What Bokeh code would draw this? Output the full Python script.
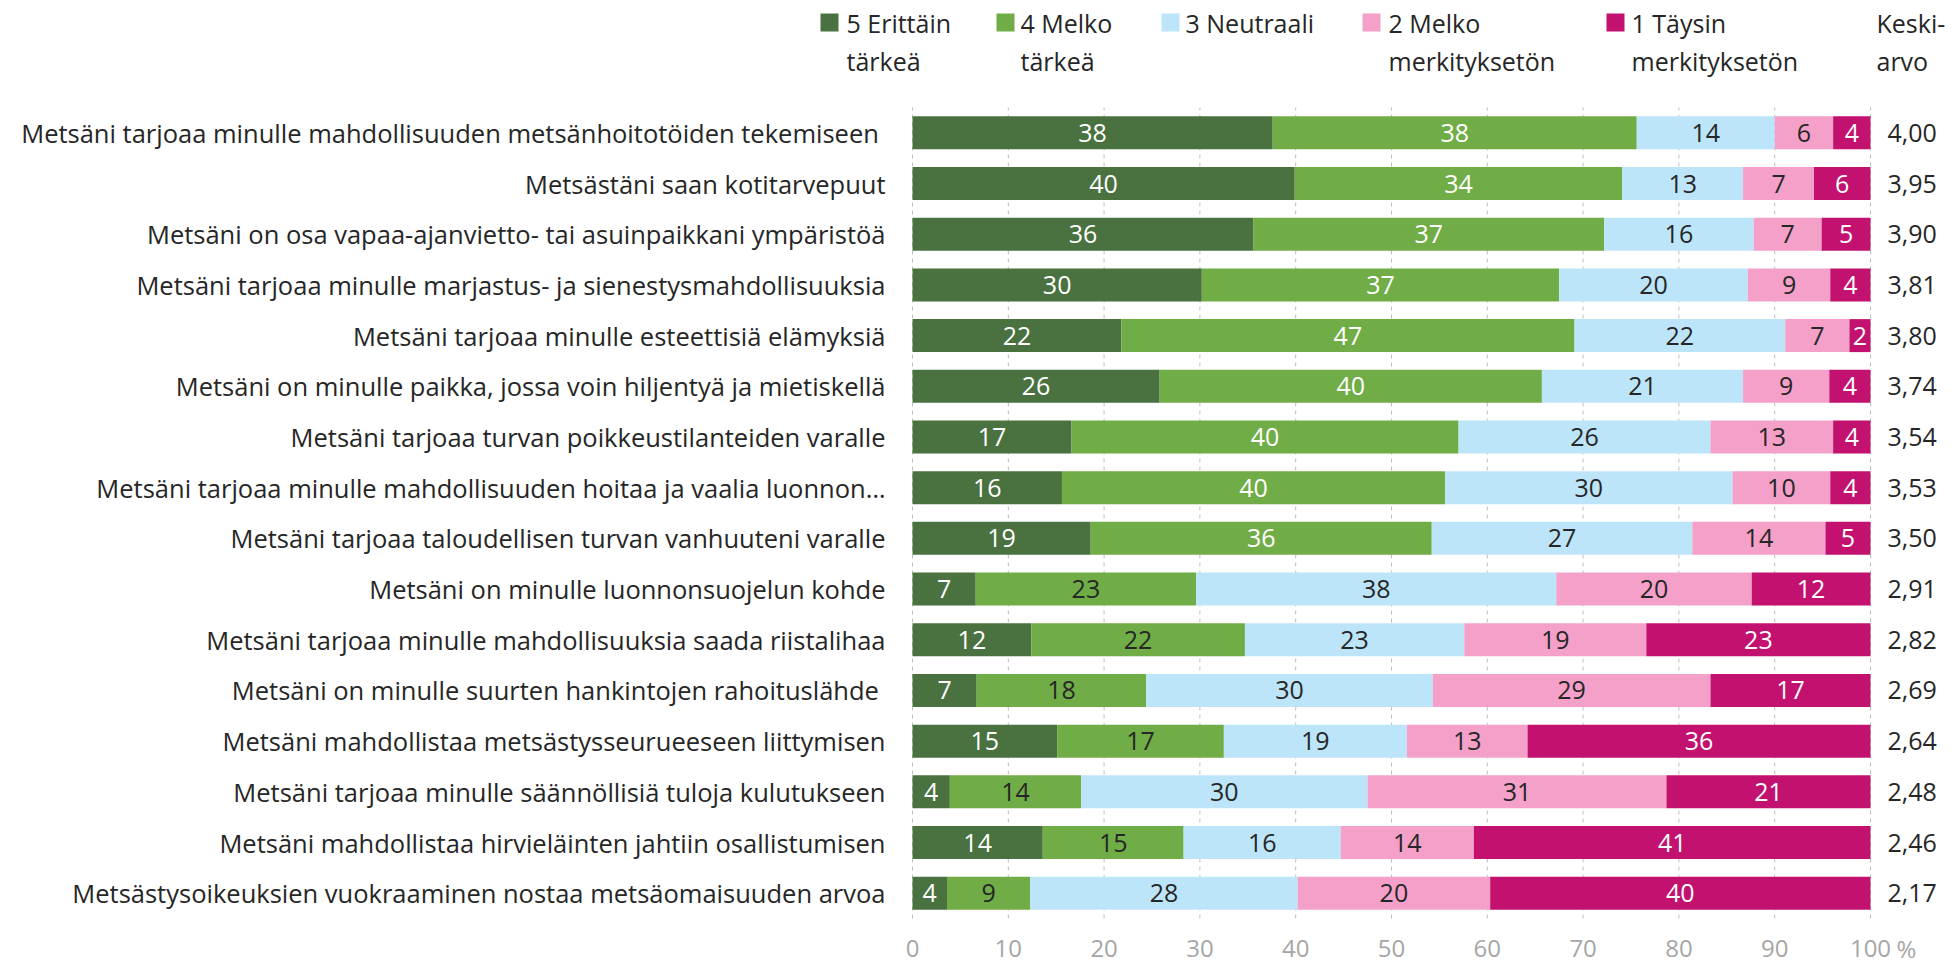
from bokeh.plotting import figure
from bokeh.models import ColumnDataSource, Range1d
from bokeh.core.properties import value
from bokeh.embed import file_html
from bokeh.resources import INLINE

# ---------------- data ----------------
categories = [
    "Metsäni tarjoaa minulle mahdollisuuden metsänhoitotöiden tekemiseen ",
    "Metsästäni saan kotitarvepuut",
    "Metsäni on osa vapaa-ajanvietto- tai asuinpaikkani ympäristöä",
    "Metsäni tarjoaa minulle marjastus- ja sienestysmahdollisuuksia",
    "Metsäni tarjoaa minulle esteettisiä elämyksiä",
    "Metsäni on minulle paikka, jossa voin hiljentyä ja mietiskellä",
    "Metsäni tarjoaa turvan poikkeustilanteiden varalle",
    "Metsäni tarjoaa minulle mahdollisuuden hoitaa ja vaalia luonnon…",
    "Metsäni tarjoaa taloudellisen turvan vanhuuteni varalle",
    "Metsäni on minulle luonnonsuojelun kohde",
    "Metsäni tarjoaa minulle mahdollisuuksia saada riistalihaa",
    "Metsäni on minulle suurten hankintojen rahoituslähde ",
    "Metsäni mahdollistaa metsästysseurueeseen liittymisen",
    "Metsäni tarjoaa minulle säännöllisiä tuloja kulutukseen",
    "Metsäni mahdollistaa hirvieläinten jahtiin osallistumisen",
    "Metsästysoikeuksien vuokraaminen nostaa metsäomaisuuden arvoa",
]
legend_line1 = ["5 Erittäin", "4 Melko", "3 Neutraali", "2 Melko", "1 Täysin"]
legend_line2 = ["tärkeä", "tärkeä", "", "merkityksetön", "merkityksetön"]
erittain_tarkea = [37.6, 39.9, 35.6, 30.2, 21.8, 25.8, 16.6, 15.6, 18.6, 6.6, 12.4, 6.7, 15.1, 3.9, 13.6, 3.6]
melko_tarkea = [38.0, 34.2, 36.6, 37.3, 47.3, 39.9, 40.4, 40.0, 35.6, 23.0, 22.3, 17.7, 17.4, 13.7, 14.7, 8.7]
neutraali = [14.4, 12.6, 15.6, 19.7, 22.0, 21.0, 26.3, 30.0, 27.2, 37.6, 22.9, 29.9, 19.1, 29.9, 16.4, 27.9]
melko_merkitykseton = [6.1, 7.4, 7.1, 8.6, 6.7, 9.0, 12.8, 10.2, 13.9, 20.4, 19.0, 29.0, 12.6, 31.2, 13.9, 20.1]
taysin_merkitykseton = [3.9, 5.9, 5.1, 4.2, 2.2, 4.3, 3.9, 4.2, 4.7, 12.4, 23.4, 16.7, 35.8, 21.3, 41.4, 39.7]
keskiarvo = ["4,00", "3,95", "3,90", "3,81", "3,80", "3,74", "3,54", "3,53", "3,50",
             "2,91", "2,82", "2,69", "2,64", "2,48", "2,46", "2,17"]
keskiarvo_title = ["Keski-", "arvo"]
x_ticks = [0, 10, 20, 30, 40, 50, 60, 70, 80, 90, 100]
x_unit = "%"

# ---------------- styles / layout ----------------
colors = ["#4a7140", "#70ad47", "#bde5f9", "#f4a0c8", "#c2116f"]
dark_text = "#262626"
tick_color = "#a6a6a6"
grid_color = "#bfbfbf"
FONT = "Open Sans"
FS = "25px"
FS_CAT = "25.5px"
FS_TICK = "24px"

ORIGIN = 0                # window px where the figure starts
W, H = 1959, 966          # figure size
X0_WIN = 912              # window px of value 0
PX_X = 9.58               # px per percent
TOP_WIN = 107             # window px of top of bar area
ROW_PX = 50.69            # px per row

series = [erittain_tarkea, melko_tarkea, neutraali, melko_merkitykseton, taysin_merkitykseton]
keys = ["s1", "s2", "s3", "s4", "s5"]
n = len(categories)


def wx(px):
    return (px - X0_WIN) / PX_X


def wy(py):
    return n - (py - TOP_WIN) / ROW_PX


p = figure(width=W, height=H, output_backend="svg", toolbar_location=None,
           x_range=Range1d(wx(ORIGIN), wx(ORIGIN + W)), y_range=Range1d(wy(ORIGIN + H), wy(ORIGIN)),
           x_axis_type=None, y_axis_type=None,
           min_border_left=0, min_border_right=0, min_border_top=0, min_border_bottom=0)
p.outline_line_color = None
p.xgrid.visible = False
p.ygrid.visible = False

row_y = [n - i - 0.5 for i in range(n)]

# dashed vertical grid lines
p.segment(x0=x_ticks, x1=x_ticks, y0=[0] * len(x_ticks), y1=[n] * len(x_ticks),
          line_color=grid_color, line_width=1, line_dash="4 4")

# stacked bars
data = {"y": row_y}
for k, s in zip(keys, series):
    data[k] = s
src = ColumnDataSource(data)
p.hbar_stack(keys, y="y", height=33 / ROW_PX, color=colors, source=src, line_width=0)

# segment labels
lx, ly, lt, lc = [], [], [], []
for i in range(n):
    left = 0.0
    for j, s in enumerate(series):
        v = s[i]
        lx.append(left + v / 2.0)
        ly.append(row_y[i])
        lt.append("%.0f" % v)
        if j == 0 or j == 4:
            lc.append("white")
        elif j == 1:
            lc.append("white" if i < 9 else dark_text)
        else:
            lc.append(dark_text)
        left += v
lsrc = ColumnDataSource(dict(x=lx, y=ly, t=lt, c=lc))
p.text(x="x", y="y", text="t", text_color="c", source=lsrc, text_align="center",
       text_baseline="middle", text_font=value(FONT), text_font_size=FS)

# category labels (left)
p.text(x=[wx(885)] * n, y=row_y, text=categories, text_font=value(FONT),
       text_font_size=FS_CAT, text_color=dark_text, text_align="right", text_baseline="middle")

# means (right)
p.text(x=[wx(1887)] * n, y=row_y, text=keskiarvo, text_font=value(FONT),
       text_font_size=FS, text_color=dark_text, text_align="left", text_baseline="middle")

# x tick labels (bottom)
tick_y = wy(948)
p.text(x=x_ticks, y=[tick_y] * len(x_ticks), text=[str(t) for t in x_ticks],
       text_font=value(FONT), text_font_size=FS_TICK, text_color=tick_color,
       text_align="center", text_baseline="middle")
p.text(x=[x_ticks[-1]], y=[tick_y], text=[x_unit], x_offset=26,
       text_font=value(FONT), text_font_size=FS_TICK, text_color=tick_color,
       text_align="left", text_baseline="middle")

# legend (top)
sq_x = [wx(v) for v in (829, 1005, 1170, 1371, 1615)]
txt_x = [wx(v) for v in (846, 1020, 1185, 1388, 1631)]
r1, r2 = wy(22), wy(60)
p.rect(x=sq_x, y=[r1] * 5, width=18, height=18, width_units="screen", height_units="screen",
       fill_color=colors, line_color=None)
p.text(x=txt_x, y=[r1] * 5, text=legend_line1, text_font=value(FONT), text_font_size=FS,
       text_color=dark_text, text_baseline="middle", text_align="left")
l2x = [x for x, t in zip(txt_x, legend_line2) if t]
l2t = [t for t in legend_line2 if t]
p.text(x=l2x, y=[r2] * len(l2t), text=l2t, text_font=value(FONT), text_font_size=FS,
       text_color=dark_text, text_baseline="middle", text_align="left")
p.text(x=[wx(1876)] * 2, y=[r1, r2], text=keskiarvo_title, text_font=value(FONT),
       text_font_size=FS, text_color=dark_text, text_baseline="middle", text_align="left")

open("out.html", "w").write(file_html(p, INLINE))
